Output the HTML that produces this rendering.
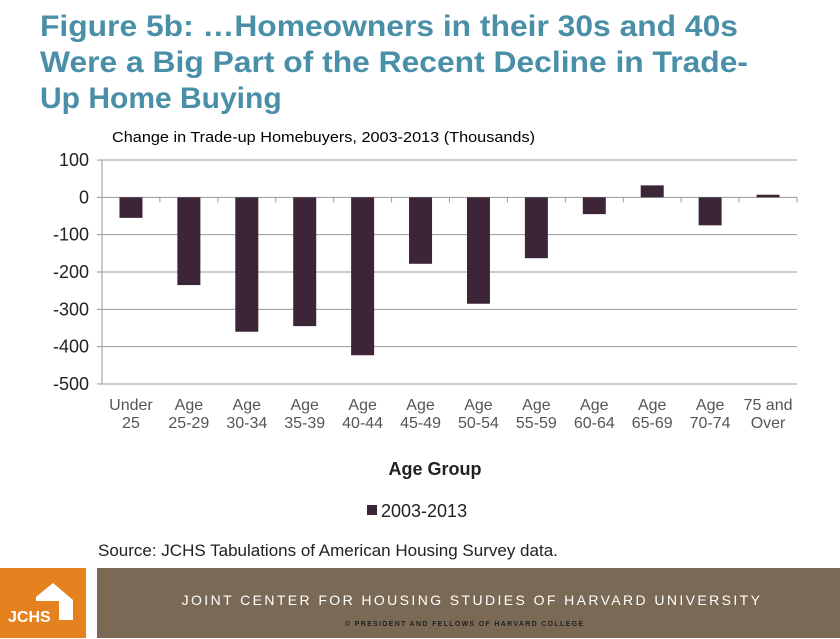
<!DOCTYPE html>
<html><head><meta charset="utf-8">
<style>
body{margin:0;width:840px;height:639px;background:#fff;overflow:hidden;font-family:"Liberation Sans",Arial,sans-serif;position:relative}
svg{position:absolute;left:0;top:0}
</style></head><body>
<svg width="840" height="639">
<g fill="#4a8fa8" font-weight="bold" font-size="30">
<text x="40" y="36" textLength="698" lengthAdjust="spacingAndGlyphs">Figure 5b: …Homeowners in their 30s and 40s</text>
<text x="40" y="72" textLength="708" lengthAdjust="spacingAndGlyphs">Were a Big Part of the Recent Decline in Trade-</text>
<text x="40" y="108">Up Home Buying</text>
</g>
<text x="112" y="142" font-size="15" fill="#000" textLength="423" lengthAdjust="spacingAndGlyphs">Change in Trade-up Homebuyers, 2003-2013 (Thousands)</text>
<g id="grid"></g><g id="bars"></g><g id="xl"></g>
<text x="435" y="475" font-size="18" font-weight="bold" fill="#222" text-anchor="middle">Age Group</text>
<rect x="367" y="505" width="10" height="10" fill="#3b2536"/>
<text x="381" y="517" font-size="18" fill="#222">2003-2013</text>
<text x="98" y="556" font-size="17" fill="#222">Source: JCHS Tabulations  of American Housing Survey data.</text>
<rect x="0" y="568" width="86" height="70" fill="#e5821f"/>
<polygon points="36,597 53,583 73,600 73,620 59,620 59,601 36,601" fill="#fff"/>
<text x="8" y="622" font-size="16" fill="#fff" font-weight="bold">JCHS</text>
<rect x="97" y="568" width="743" height="70" fill="#7a6a55"/>
<text x="472" y="605" font-size="14" fill="#fff" text-anchor="middle" letter-spacing="2.4">JOINT CENTER FOR HOUSING STUDIES OF HARVARD UNIVERSITY</text>
<text x="345" y="626" font-size="7" font-weight="bold" fill="#222" textLength="238" lengthAdjust="spacing">© PRESIDENT AND FELLOWS OF HARVARD COLLEGE</text>
</svg>
<script>
const categories=[["Under","25"],["Age","25-29"],["Age","30-34"],["Age","35-39"],["Age","40-44"],["Age","45-49"],["Age","50-54"],["Age","55-59"],["Age","60-64"],["Age","65-69"],["Age","70-74"],["75 and","Over"]];
const values=[-55,-235,-360,-345,-423,-178,-285,-163,-45,32,-75,7];
const yTicks=[100,0,-100,-200,-300,-400,-500];
const NS="http://www.w3.org/2000/svg";
const x0=102,x1=797,yTop=160,yBot=384,vMax=100,vMin=-500;
const y=v=>yTop+(vMax-v)/(vMax-vMin)*(yBot-yTop);
const cw=(x1-x0)/categories.length;
function mk(t,a,p){const e=document.createElementNS(NS,t);for(const k in a)e.setAttribute(k,a[k]);document.getElementById(p).appendChild(e);return e;}
yTicks.forEach(v=>{
 const l=mk('line',{x1:x0-5,x2:x1,y1:y(v),y2:y(v),stroke:'#999','stroke-width':1},'grid');
 
 
 const t=mk('text',{x:x0-13,y:y(v)+6,'font-size':18,fill:'#222','text-anchor':'end'},'grid');
 t.textContent=v;
 
 
});
const ax=mk('line',{x1:x0,x2:x0,y1:yTop,y2:yBot,stroke:'#999'},'grid');


for(let i=1;i<=categories.length;i++){
 const tk=mk('line',{x1:x0+i*cw,x2:x0+i*cw,y1:y(0),y2:y(0)+5,stroke:'#999'},'grid');
 
 
}
values.forEach((v,i)=>{
 const cx=x0+(i+0.5)*cw,bw=23;
 const r=mk('rect',{x:cx-bw/2,y:Math.min(y(v),y(0)),width:bw,height:Math.abs(y(v)-y(0)),fill:'#3b2536'},'bars');
 
 
 categories[i].forEach((s,j)=>{
  const t=mk('text',{x:cx,y:410+j*18,'font-size':16,fill:'#555','text-anchor':'middle'},'xl');
  t.textContent=s;
  
  
 });
});
</script>
</body></html>
